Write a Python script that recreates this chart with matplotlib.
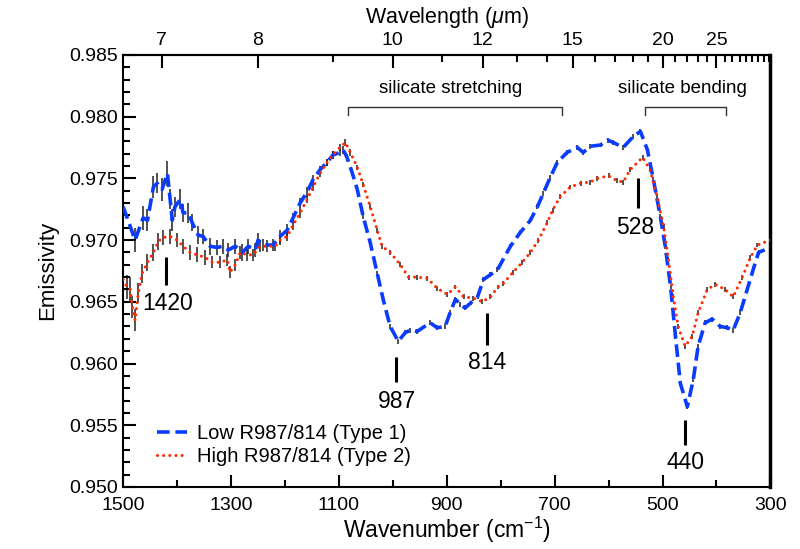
import matplotlib
matplotlib.use("Agg")
import matplotlib.pyplot as plt

plt.rcParams["font.family"] = ["Liberation Sans", "DejaVu Sans"]
plt.rcParams["mathtext.fontset"] = "custom"
plt.rcParams["mathtext.rm"] = "Liberation Sans"
plt.rcParams["mathtext.it"] = "Liberation Sans:italic"

# Low R987/814 (Type 1)
low_wn = [
    1500, 1478, 1463, 1455, 1444, 1437, 1428, 1418, 1413, 1409,
    1404, 1394, 1389, 1379, 1372, 1361, 1352, 1339, 1326, 1315,
    1305, 1292, 1279, 1268, 1255, 1250, 1240, 1222, 1209, 1196,
    1185, 1172, 1159, 1148, 1135, 1122, 1111, 1098, 1092, 1085,
    1075, 1066, 1055, 1042, 1029, 1018, 1005, 990, 977, 968,
    955, 931, 918, 903, 894, 884, 875, 866, 856, 843,
    832, 819, 806, 782, 764, 745, 732, 721, 708, 695,
    677, 658, 647, 634, 615, 602, 591, 573, 554, 541,
    528, 517, 504, 495, 485, 476, 467, 454, 443, 434,
    421, 408, 393, 380, 369, 356, 343, 332, 322, 300,
]
low_em = [
    0.9727, 0.9700, 0.9718, 0.9716, 0.9743, 0.9746, 0.9741, 0.9754, 0.9733, 0.9716,
    0.9727, 0.9733, 0.9722, 0.9722, 0.9714, 0.9704, 0.9703, 0.9695, 0.9694, 0.9695,
    0.9692, 0.9695, 0.9690, 0.9695, 0.9692, 0.9700, 0.9696, 0.9696, 0.9703, 0.9708,
    0.9718, 0.9730, 0.9739, 0.9749, 0.9757, 0.9763, 0.9769, 0.9771, 0.9773, 0.9767,
    0.9754, 0.9741, 0.9719, 0.9698, 0.9673, 0.9652, 0.9630, 0.9618, 0.9625, 0.9627,
    0.9626, 0.9633, 0.9629, 0.9630, 0.9641, 0.9652, 0.9648, 0.9645, 0.9649, 0.9654,
    0.9668, 0.9672, 0.9676, 0.9695, 0.9706, 0.9716, 0.9727, 0.9738, 0.9751, 0.9763,
    0.9771, 0.9775, 0.9771, 0.9776, 0.9777, 0.9781, 0.9779, 0.9775, 0.9784, 0.9788,
    0.9773, 0.9749, 0.9719, 0.9695, 0.9662, 0.9622, 0.9584, 0.9565, 0.9587, 0.9614,
    0.9633, 0.9636, 0.9630, 0.9629, 0.9627, 0.9641, 0.9660, 0.9676, 0.9690, 0.9694,
]
low_err = [
    0.0012, 0.0010, 0.0010, 0.0009, 0.0009, 0.0008, 0.0009, 0.0010, 0.0008, 0.0009,
    0.0008, 0.0008, 0.0007, 0.0008, 0.0007, 0.0007, 0.0006, 0.0007, 0.0006, 0.0006,
    0.0006, 0.0006, 0.0007, 0.0006, 0.0006, 0.0006, 0.0005, 0.0005, 0.0005, 0.0005,
    0.0004, 0.0004, 0.0004, 0.0004, 0.0003, 0.0003, 0.0003, 0.0003, 0.0003, 0.0003,
    0.0002, 0.0002, 0.0002, 0.0002, 0.0002, 0.0002, 0.0002, 0.0002, 0.0002, 0.0002,
    0.0002, 0.0002, 0.0002, 0.0002, 0.0002, 0.0002, 0.0002, 0.0002, 0.0002, 0.0002,
    0.0002, 0.0002, 0.0002, 0.0002, 0.0002, 0.0002, 0.0002, 0.0002, 0.0002, 0.0002,
    0.0002, 0.0002, 0.0002, 0.0002, 0.0002, 0.0002, 0.0002, 0.0002, 0.0002, 0.0002,
    0.0002, 0.0002, 0.0002, 0.0002, 0.0002, 0.0002, 0.0002, 0.0002, 0.0002, 0.0002,
    0.0002, 0.0002, 0.0002, 0.0002, 0.0002, 0.0002, 0.0002, 0.0002, 0.0002, 0.0002,
]

# High R987/814 (Type 2)
high_wn = [
    1500, 1493, 1487, 1483, 1478, 1472, 1465, 1455, 1444, 1435,
    1426, 1413, 1400, 1389, 1376, 1363, 1348, 1335, 1320, 1307,
    1302, 1292, 1283, 1270, 1259, 1246, 1233, 1218, 1209, 1196,
    1185, 1172, 1159, 1148, 1135, 1122, 1111, 1098, 1088, 1079,
    1066, 1055, 1042, 1029, 1020, 1005, 986, 971, 955, 936,
    918, 899, 884, 869, 851, 834, 819, 805, 795, 777,
    760, 745, 730, 714, 704, 690, 671, 652, 634, 621,
    600, 584, 573, 560, 537, 523, 510, 498, 489, 480,
    471, 458, 445, 434, 417, 402, 384, 369, 352, 337,
    324, 300,
]
high_em = [
    0.9668, 0.9662, 0.9660, 0.9646, 0.9635, 0.9657, 0.9673, 0.9682, 0.9690, 0.9699,
    0.9702, 0.9703, 0.9700, 0.9695, 0.9690, 0.9688, 0.9686, 0.9682, 0.9682, 0.9684,
    0.9674, 0.9680, 0.9690, 0.9688, 0.9688, 0.9695, 0.9695, 0.9695, 0.9700, 0.9703,
    0.9712, 0.9722, 0.9733, 0.9743, 0.9754, 0.9763, 0.9769, 0.9775, 0.9779, 0.9771,
    0.9759, 0.9745, 0.9727, 0.9708, 0.9695, 0.9690, 0.9680, 0.9670, 0.9670, 0.9669,
    0.9661, 0.9656, 0.9662, 0.9654, 0.9653, 0.9650, 0.9654, 0.9662, 0.9665, 0.9674,
    0.9682, 0.9690, 0.9700, 0.9714, 0.9724, 0.9735, 0.9743, 0.9746, 0.9747, 0.9750,
    0.9752, 0.9748, 0.9747, 0.9757, 0.9767, 0.9757, 0.9735, 0.9711, 0.9684, 0.9654,
    0.9630, 0.9614, 0.9622, 0.9641, 0.9660, 0.9664, 0.9660, 0.9654, 0.9670, 0.9686,
    0.9696, 0.9700,
]
high_err = [
    0.0012, 0.0010, 0.0010, 0.0009, 0.0009, 0.0008, 0.0008, 0.0007, 0.0007, 0.0007,
    0.0006, 0.0006, 0.0006, 0.0006, 0.0006, 0.0006, 0.0006, 0.0005, 0.0005, 0.0005,
    0.0005, 0.0005, 0.0005, 0.0005, 0.0005, 0.0005, 0.0005, 0.0004, 0.0004, 0.0004,
    0.0004, 0.0004, 0.0003, 0.0003, 0.0003, 0.0003, 0.0003, 0.0003, 0.0003, 0.0003,
    0.0002, 0.0002, 0.0002, 0.0002, 0.0002, 0.0002, 0.0002, 0.0002, 0.0002, 0.0002,
    0.0002, 0.0002, 0.0002, 0.0002, 0.0002, 0.0002, 0.0002, 0.0002, 0.0002, 0.0002,
    0.0002, 0.0002, 0.0002, 0.0002, 0.0002, 0.0002, 0.0002, 0.0002, 0.0002, 0.0002,
    0.0002, 0.0002, 0.0002, 0.0002, 0.0002, 0.0002, 0.0002, 0.0002, 0.0002, 0.0002,
    0.0002, 0.0002, 0.0002, 0.0002, 0.0002, 0.0002, 0.0002, 0.0002, 0.0002, 0.0002,
    0.0002, 0.0002,
]

# band markers: label, tick x, tick bottom/top, text x, text y
band_labels = ["1420", "987", "814", "528", "440"]
band_x = [1420, 994, 825, 545, 458]
band_lo = [0.9664, 0.9585, 0.9615, 0.9726, 0.9534]
band_hi = [0.9686, 0.9605, 0.9641, 0.9750, 0.9554]
band_text_x = [1418, 992, 825, 550, 458]
band_text_y = [0.9649, 0.9569, 0.9601, 0.9710, 0.9520]

# silicate regions
region_labels = ["silicate stretching", "silicate bending"]
region_start = [1083, 532]
region_end = [686, 382]
region_text_x = [893, 463]

wl_major = [7, 8, 10, 12, 15, 20, 25]
wl_minor = [9, 11, 13, 14, 16, 17, 18, 19, 21, 22, 23, 24,
            26, 27, 28, 29, 30, 31, 32, 33]

fig = plt.figure(figsize=(8, 5.49), dpi=100)
ax = fig.add_axes([0.154, 0.113, 0.809, 0.787])

ax.errorbar(low_wn, low_em, yerr=low_err, fmt="none", ecolor="#222222",
            elinewidth=1.1, capsize=0, zorder=1)
ax.errorbar(high_wn, high_em, yerr=high_err, fmt="none", ecolor="#222222",
            elinewidth=1.1, capsize=0, zorder=1)

ax.plot(low_wn, low_em, color="#0a3cff", lw=2.6, dashes=(3.5, 1.6),
        label="Low R987/814 (Type 1)", zorder=3)
ax.plot(high_wn, high_em, color="#ff2a00", lw=2.2, linestyle=(0, (0.01, 2.0)),
        dash_capstyle="round", label="High R987/814 (Type 2)", zorder=4)

ax.vlines(band_x, band_lo, band_hi, color="black", lw=2.2)
for lab, tx, ty in zip(band_labels, band_text_x, band_text_y):
    ax.text(tx, ty, lab, ha="center", va="center", fontsize=16.5)

bracket_top = 0.9808
bracket_bot = 0.9801
for lab, x0, x1, tx in zip(region_labels, region_start, region_end, region_text_x):
    ax.plot([x0, x0, x1, x1], [bracket_bot, bracket_top, bracket_top, bracket_bot],
            color="#333333", lw=1.0)
    ax.text(tx, 0.9823, lab, ha="center", va="center", fontsize=13.5)

ax.set_xlim(1500, 300)
ax.set_ylim(0.950, 0.985)
ax.set_xticks([1500, 1300, 1100, 900, 700, 500, 300])
ax.set_xticks([1400, 1200, 1000, 800, 600, 400], minor=True)
ax.set_yticks([0.950, 0.955, 0.960, 0.965, 0.970, 0.975, 0.980, 0.985])
ax.set_yticklabels(["0.950", "0.955", "0.960", "0.965", "0.970", "0.975",
                    "0.980", "0.985"])
ax.set_yticks([v / 1000 for v in range(950, 986)], minor=True)
ax.tick_params(which="both", direction="in", labelsize=14, width=1.5,
               top=False, right=False)
ax.tick_params(which="major", length=9)
ax.tick_params(which="minor", length=5)
ax.tick_params(axis="x", pad=7)

for side in ["left", "bottom", "top"]:
    ax.spines[side].set_linewidth(1.5)
ax.spines["right"].set_linewidth(2.5)

ax.set_xlabel("Wavenumber (cm$^{-1}$)", fontsize=16.5, labelpad=1)
ax.set_ylabel("Emissivity", fontsize=16, labelpad=8)

top = ax.secondary_xaxis("top", functions=(lambda w: 10000 / w, lambda l: 10000 / l))
top.set_xticks(wl_major)
top.set_xticklabels([str(v) for v in wl_major])
top.set_xticks(wl_minor, minor=True)
top.tick_params(which="both", direction="in", labelsize=14, width=1.5, pad=4)
top.tick_params(which="major", length=9)
top.tick_params(which="minor", length=5)
top.spines["top"].set_linewidth(1.5)
top.set_xlabel("Wavelength ($\\mu$m)", fontsize=15.5, labelpad=7)

ax.legend(loc="lower left", bbox_to_anchor=(0.03, 0.015), frameon=False,
          fontsize=14.5, handlelength=1.5, handletextpad=0.5, labelspacing=0.2,
          borderpad=0.2)

fig.savefig("out.png", dpi=100)
